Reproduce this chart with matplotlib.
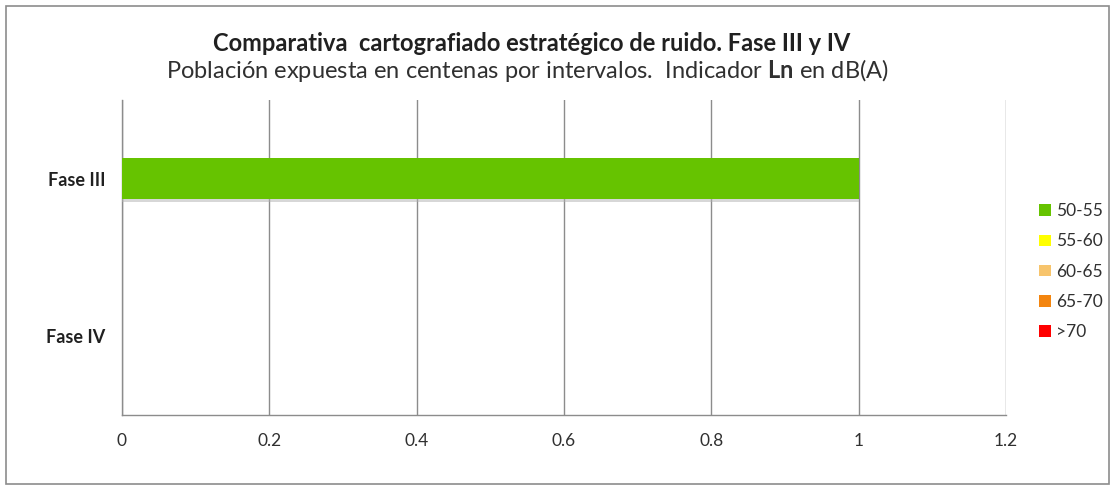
import matplotlib

matplotlib.use('Agg')
import matplotlib.pyplot as plt
import matplotlib.patheffects as pe
from matplotlib.patches import Patch, Rectangle
import numpy as np

# Datos
fases = ['Fase III', 'Fase IV']
intervalos = ['50-55', '55-60', '60-65', '65-70', '>70']
valores = {
    '50-55': [1, 0],
    '55-60': [0, 0],
    '60-65': [0, 0],
    '65-70': [0, 0],
    '>70': [0, 0],
}
colores = ['#66C300', '#FFFF00', '#F7C46C', '#F3850F', '#FF0000']
xticks = [0, 0.2, 0.4, 0.6, 0.8, 1, 1.2]

plt.rcParams['font.family'] = ['Lato', 'DejaVu Sans']
plt.rcParams['mathtext.fontset'] = 'custom'
plt.rcParams['mathtext.rm'] = 'Lato'
plt.rcParams['mathtext.bf'] = 'Lato:bold'

fig = plt.figure(figsize=(11.15, 4.9), dpi=100)
ax = fig.add_axes([0.1094, 0.153, 0.7928, 0.643])

# borde del area del grafico
fig.patches.append(Rectangle((6 / 1115, 6 / 490), 1 - 12 / 1115, 1 - 12 / 490,
                             transform=fig.transFigure, fill=False,
                             edgecolor='#8c8c8c', linewidth=1.2))

y = np.arange(len(fases))
izquierda = np.zeros(len(fases))
for nombre, color in zip(intervalos, colores):
    v = np.array(valores[nombre], dtype=float)
    barras = ax.barh(y, v, left=izquierda, height=0.26, color=color, zorder=3)
    for b in barras:
        b.set_path_effects([pe.SimplePatchShadow(offset=(0, -2), shadow_rgbFace='#b0b0b0', alpha=0.5),
                            pe.Normal()])
    izquierda += v

ax.set_xlim(0, 1.2)
ax.set_ylim(1.5, -0.5)
ax.set_xticks(xticks)
ax.set_xticklabels(['0', '0.2', '0.4', '0.6', '0.8', '1', '1.2'], fontsize=12.5, color='#303030')
ax.set_yticks(y)
ax.set_yticklabels(fases, fontsize=13, fontweight='bold', color='#202020')
ax.tick_params(axis='both', length=0)
ax.tick_params(axis='x', pad=13)
ax.tick_params(axis='y', pad=12)
ax.grid(axis='x', color='#8c8c8c', linewidth=1, zorder=0)
for s in ['top', 'right']:
    ax.spines[s].set_visible(False)
for s in ['left', 'bottom']:
    ax.spines[s].set_color('#8c8c8c')
    ax.spines[s].set_linewidth(1)

fig.text(0.477, 0.912, 'Comparativa  cartografiado estratégico de ruido. Fase III y IV',
         ha='center', va='center', fontsize=17, fontweight='bold', color='#202020')
fig.text(0.473, 0.857, 'Población expuesta en centenas por intervalos.  Indicador $\\mathbf{Ln}$ en dB(A)',
         ha='center', va='center', fontsize=17, color='#303030')

handles = [Patch(facecolor=c, edgecolor='none') for c in colores]
ax.legend(handles, intervalos, loc='center left', bbox_to_anchor=(1.02, 0.455),
          frameon=False, fontsize=12.5, handlelength=0.65, handleheight=0.65,
          handletextpad=0.3, labelspacing=0.82, labelcolor='#303030')

fig.savefig('out.png', dpi=100)
plt.close()
